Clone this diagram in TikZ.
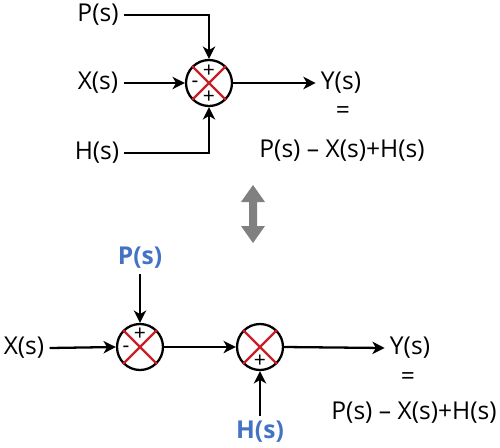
\documentclass[tikz,border=0pt]{standalone}
\usepackage{fontspec}
\setmainfont{Open Sans}
\usetikzlibrary{arrows.meta}
\definecolor{sumred}{RGB}{200,30,40}
\definecolor{lblue}{RGB}{68,114,196}
\definecolor{dgray}{RGB}{128,128,128}
\begin{document}
\begin{tikzpicture}[x=0.02cm,y=-0.02cm,
  sumj/.style={circle,draw=black,line width=1.3pt,minimum size=0.92cm,inner sep=0pt},
  lbl/.style={font=\fontsize{14}{16}\selectfont,inner sep=0pt,outer sep=3pt},
  blbl/.style={font=\fontsize{14}{16}\selectfont\bfseries,text=lblue,inner sep=0pt,outer sep=3pt},
  sgn/.style={font=\fontsize{12}{14}\selectfont,inner sep=0pt},
  conn/.style={line width=1.3pt,-{Stealth[length=7pt,width=7pt,inset=2pt]}},
  crossline/.style={draw=sumred,line width=1.3pt}]
\useasboundingbox (0,0) rectangle (500,447);
% ---------- top diagram ----------
\node[sumj] (s1) at (209,83) {};
\draw[crossline] (s1.north west) -- (s1.south east);
\draw[crossline] (s1.north east) -- (s1.south west);
\node[sgn] (s1p1) at (209,71) {+};
\node[sgn] (s1m) at (195,84) {-};
\node[sgn] (s1p2) at (209,97) {+};
\node[lbl] (P1) at (98,15) {P(s)};
\node[lbl] (X1) at (98,83) {X(s)};
\node[lbl] (H1) at (97,153) {H(s)};
\node[lbl] (Y1) at (341,83) {Y(s)};
\node[lbl] (E1) at (343,113) {=};
\node[lbl] (Q1) at (342,151) {P(s) – X(s)+H(s)};
\draw[conn] (P1.east) -| (s1.north);
\draw[conn] (X1.east) -- (s1.west);
\draw[conn] (H1.east) -| (s1.south);
\draw[conn] (s1.east) -- (Y1.west);
% ---------- double arrow ----------
\fill[dgray] (253,185) -- (265,202) -- (257,202) -- (257,226) -- (265,226)
  -- (253,243) -- (241,226) -- (249,226) -- (249,202) -- (241,202) -- cycle;
% ---------- bottom diagram ----------
\node[sumj] (s2) at (140,347) {};
\draw[crossline] (s2.north west) -- (s2.south east);
\draw[crossline] (s2.north east) -- (s2.south west);
\node[sgn] (s2p) at (140,334) {+};
\node[sgn] (s2m) at (126,349) {-};
\node[sumj] (s3) at (260,347) {};
\draw[crossline] (s3.north west) -- (s3.south east);
\draw[crossline] (s3.north east) -- (s3.south west);
\node[sgn] (s3p) at (260,361) {+};
\node[blbl] (P2) at (140,258) {P(s)};
\node[lbl] (X2) at (24,348) {X(s)};
\node[blbl] (H2) at (260,432) {H(s)};
\node[lbl] (Y2) at (410,348) {Y(s)};
\node[lbl] (E2) at (408,379) {=};
\node[lbl] (Q2) at (414,413) {P(s) – X(s)+H(s)};
\draw[conn] (P2.south) -- (s2.north);
\draw[conn] (X2.east) -- (s2.west);
\draw[conn] (s2.east) -- (s3.west);
\draw[conn] (H2.north) -- (s3.south);
\draw[conn] (s3.east) -- (Y2.west);
\end{tikzpicture}
\end{document}
